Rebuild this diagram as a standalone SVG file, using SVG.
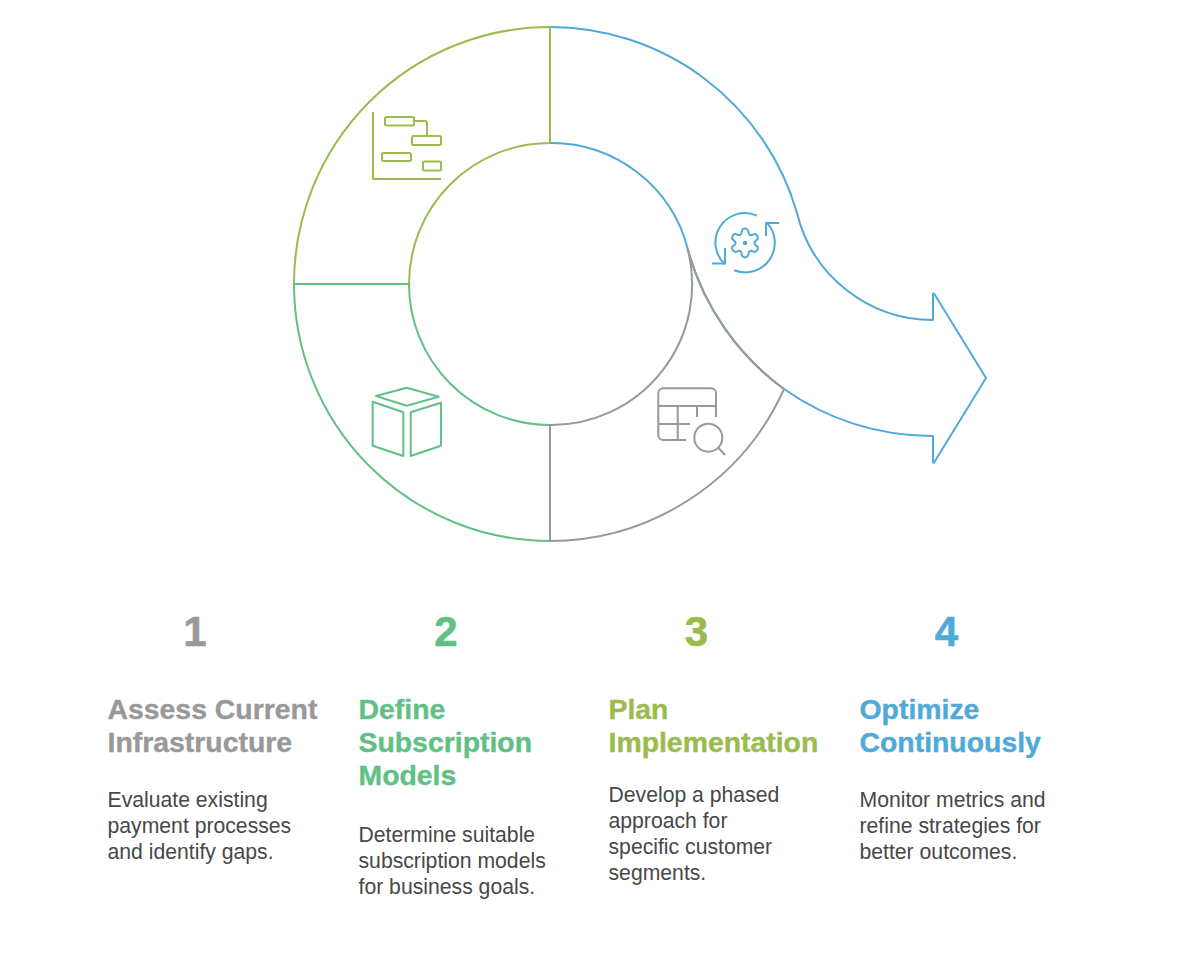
<svg xmlns="http://www.w3.org/2000/svg" width="1178" height="970" viewBox="0 0 1178 970">
<style>
.s{fill:none;stroke-width:2;stroke-linejoin:round;stroke-linecap:butt}
.gr{stroke:#999999}.g{stroke:#62c085}.y{stroke:#9bbb4f}.b{stroke:#4fa9d9}
text{font-family:"Liberation Sans",Arial,sans-serif}
.n{font-size:42px;font-weight:700;text-anchor:middle;stroke-width:.6px}
.t{font-size:28.400px;font-weight:700;stroke-width:.4px}
.d{font-size:21.200px;fill:#484848}
.fgr{fill:#999999;stroke:#999999}.fg{fill:#62c085;stroke:#62c085}.fy{fill:#9bbb4f;stroke:#9bbb4f}.fb{fill:#4fa9d9;stroke:#4fa9d9}
</style>
<rect width="1178" height="970" fill="#ffffff"/>
<g id="connectors">
<path id="seg-blue" class="s b" d="M550,27 A257,257 0 0 1 797,213 A140,140 0 0 0 933,320 V294 Q933.500,292.500 935,295 L986,378 L935,461 Q933.500,464 933,462 V436 A256,256 0 0 1 784,389 A256,256 0 0 1 688,250 A141,141 0 0 0 550,143"/>
<path id="seg-yellow" class="s y" d="M294,284 A256,257 0 0 1 550,27 V143 A141,141 0 0 0 409,284 Z"/>
<path id="seg-green" class="s g" d="M294,284 A256,257 0 0 0 550,541 V425 A141,141 0 0 1 409,284 Z"/>
<path id="seg-grey" class="s gr" d="M550,541 A257,257 0 0 0 784,389 A256,256 0 0 1 688,250 A141,141 0 0 1 550,425 Z"/>
</g>
<g id="icon-plan" class="s y">
<path d="M373,112 V179 H441"/>
<rect x="385" y="117" width="29" height="8.500" rx="1.500"/>
<rect x="412" y="136" width="29" height="9" rx="1.500"/>
<rect x="382" y="153" width="29" height="8" rx="1.500"/>
<rect x="423" y="161.500" width="18" height="9" rx="1.500"/>
<path d="M414,121 H425 Q427,121 427,123 V136"/>
</g>
<g id="icon-optimize" class="s b">
<path d="M756.700,215.600 A29.500,29.500 0 0 0 725,264.400"/>
<path d="M725,248 V263.500 H712"/>
<path d="M734.300,270.200 A29.500,29.500 0 0 0 766.600,222.400"/>
<path d="M766,236 V223 H779"/>
<path d="M741.600,232 A3.400,3.400 0 0 1 748.400,232 Q748.750,236.500 752.830,234.560 A3.400,3.400 0 0 1 756.230,240.440 Q752.500,243 756.230,245.560 A3.400,3.400 0 0 1 752.830,251.440 Q748.750,249.500 748.400,254 A3.400,3.400 0 0 1 741.600,254 Q741.250,249.500 737.170,251.440 A3.400,3.400 0 0 1 733.770,245.560 Q737.500,243 733.770,240.440 A3.400,3.400 0 0 1 737.170,234.560 Q741.250,236.500 741.600,232 Z"/>
<circle cx="745" cy="243" r="1.200"/>
</g>
<g id="icon-define" class="s g">
<path d="M376,396 L406.700,387.700 L438.700,396.700 L406.700,405.700 Z"/>
<path d="M372.700,401.700 L403.300,412.300 V456 L372.700,445.700 Z"/>
<path d="M410.700,412.300 L441,402.700 V445.700 L410.700,456 Z"/>
</g>
<g id="icon-assess" class="s gr">
<path d="M716,417 V393.300 A5,5 0 0 0 711,388.300 H663.300 A5,5 0 0 0 658.300,393.300 V435 A5,5 0 0 0 663.300,440 H686"/>
<path d="M658.300,406 H716 M677.700,406 V440 M697,406 V417 M658.300,424 H690"/>
<circle cx="708.300" cy="437.700" r="14"/>
<path d="M718.300,447.700 L725,455"/>
</g>
<g id="step-1">
<text class="n fgr" x="195" y="646">1</text>
<text class="t fgr" x="107.500" y="718.500">Assess Current</text>
<text class="t fgr" x="107.500" y="751.500">Infrastructure</text>
<text class="d" x="107.500" y="807">Evaluate existing</text>
<text class="d" x="107.500" y="833">payment processes</text>
<text class="d" x="107.500" y="859">and identify gaps.</text>
</g>
<g id="step-2">
<text class="n fg" x="446" y="646">2</text>
<text class="t fg" x="358.500" y="718.500">Define</text>
<text class="t fg" x="358.500" y="751.500">Subscription</text>
<text class="t fg" x="358.500" y="784.500">Models</text>
<text class="d" x="358.500" y="842">Determine suitable</text>
<text class="d" x="358.500" y="868">subscription models</text>
<text class="d" x="358.500" y="894">for business goals.</text>
</g>
<g id="step-3">
<text class="n fy" x="696.500" y="646">3</text>
<text class="t fy" x="608.500" y="718.500">Plan</text>
<text class="t fy" x="608.500" y="751.500">Implementation</text>
<text class="d" x="608.500" y="802">Develop a phased</text>
<text class="d" x="608.500" y="828">approach for</text>
<text class="d" x="608.500" y="854">specific customer</text>
<text class="d" x="608.500" y="880">segments.</text>
</g>
<g id="step-4">
<text class="n fb" x="946.500" y="646">4</text>
<text class="t fb" x="859.500" y="718.500">Optimize</text>
<text class="t fb" x="859.500" y="751.500">Continuously</text>
<text class="d" x="859.500" y="807">Monitor metrics and</text>
<text class="d" x="859.500" y="833">refine strategies for</text>
<text class="d" x="859.500" y="859">better outcomes.</text>
</g>
</svg>
